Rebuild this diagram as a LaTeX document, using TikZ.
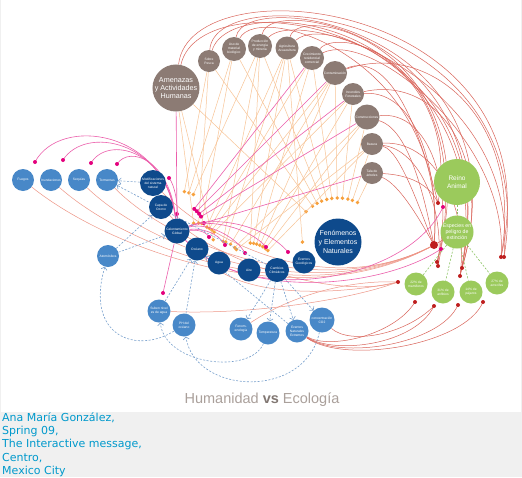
\documentclass[tikz,border=0pt]{standalone}
\usepackage{fontspec}
\setmainfont{Liberation Sans}
\newfontfamily\footfont{DejaVu Sans}
\usetikzlibrary{calc,arrows.meta}
\pgfdeclarelayer{back}
\pgfdeclarelayer{bg}
\pgfsetlayers{back,bg,main}
\definecolor{brn}{RGB}{140,123,116}
\definecolor{navy}{RGB}{14,74,140}
\definecolor{mblue}{RGB}{72,136,200}
\definecolor{grn}{RGB}{155,202,92}
\definecolor{oline}{RGB}{248,196,150}
\definecolor{odot}{RGB}{247,160,60}
\definecolor{pline}{RGB}{236,95,172}
\definecolor{pdot}{RGB}{228,0,125}
\definecolor{rline}{RGB}{218,100,90}
\definecolor{sline}{RGB}{238,150,135}
\definecolor{rdot}{RGB}{190,30,30}
\definecolor{dblue}{RGB}{120,160,205}
\definecolor{dgreen}{RGB}{140,196,100}
\definecolor{ttl}{RGB}{170,160,155}
\definecolor{ttlb}{RGB}{130,120,115}
\definecolor{foot}{RGB}{0,153,204}
\definecolor{footbg}{RGB}{240,240,240}
\tikzset{
  nd/.style={circle,inner sep=0pt,text=white,align=center,font=\fontsize{3.3}{4.1}\selectfont},
  bn/.style={nd,fill=brn},
  dn/.style={nd,fill=navy},
  mn/.style={nd,fill=mblue},
  gn/.style={nd,fill=grn},
  oln/.style={draw=oline,line width=0.5pt},
  pln/.style={draw=pline,line width=0.6pt},
  rln/.style={draw=rline,line width=0.5pt},
  sln/.style={draw=sline,line width=0.5pt},
  dsh/.style={draw=dblue,line width=0.6pt,dash pattern=on 2pt off 1.6pt,-{Straight Barb[length=2.5pt,width=6pt]}},
  gdsh/.style={draw=dgreen,line width=0.6pt,dash pattern=on 2pt off 1.6pt},
}
\begin{document}
\begin{tikzpicture}[x=1pt,y=-1pt]
\useasboundingbox (0,0) rectangle (522,477);
\begin{pgfonlayer}{back}
\fill[white] (0,0) rectangle (522,412);
\fill[footbg] (0,412) rectangle (522,477);
\draw[footbg,line width=1pt] (0.5,0) -- (0.5,412);
\draw[footbg,line width=1pt] (521.5,0) -- (521.5,412);
\end{pgfonlayer}

% brown nodes
\node[bn,minimum size=47pt,font=\fontsize{7.2}{7.8}\selectfont] (amen) at (176,88) {Amenazas\\y Actividades\\Humanas};
\node[bn,minimum size=22pt] (sp) at (209,61) {Sobre\\Pesca};
\node[bn,minimum size=24pt] (um) at (234,49) {Uso de\\material\\biológico};
\node[bn,minimum size=24pt] (pe) at (260,46) {Producción\\de energía\\y minería};
\node[bn,minimum size=23pt] (ag) at (287,48) {Agricultura\\Acuacultura};
\node[bn,minimum size=24pt] (cr) at (312,58) {Crecimiento\\residencial\\comercial};
\node[bn,minimum size=24pt] (co) at (335,73) {Contaminación};
\node[bn,minimum size=22pt] (inc) at (353,94) {Incendios\\Forestales};
\node[bn,minimum size=25pt] (cn) at (367,117) {Construcciones};
\node[bn,minimum size=22pt] (ba) at (372,144) {Basura};
\node[bn,minimum size=22pt] (ta) at (372,173) {Tala de\\árboles};
% dark blue nodes
\node[dn,minimum size=47pt,font=\fontsize{7}{8.6}\selectfont] (fen) at (338,242) {Fenómenos\\y Elementos\\Naturales};
\node[dn,minimum size=26pt] (mod) at (153,183) {Modificaciones\\del sistema\\natural};
\node[dn,minimum size=24pt] (oz) at (161,207) {Capa de\\Ozono};
\node[dn,minimum size=25pt] (cal) at (177,231) {Calentamiento\\Global};
\node[dn,minimum size=23pt] (oce) at (197,249) {Océano};
\node[dn,minimum size=23pt] (agu) at (219,263) {Agua};
\node[dn,minimum size=23pt] (aire) at (249,270) {Aire};
\node[dn,minimum size=24pt] (cam) at (277,270) {Cambios\\Climáticos};
\node[dn,minimum size=23pt] (geo) at (304,262) {Eventos\\Geológicos};
% medium blue nodes
\node[mn,minimum size=22pt] (fue) at (23,180) {Fuegos};
\node[mn,minimum size=22pt] (inu) at (51,180) {Inundaciones};
\node[mn,minimum size=22pt] (seq) at (79,180) {Sequías};
\node[mn,minimum size=22pt] (tor) at (107,180) {Tormentas};
\node[mn,minimum size=22pt] (atm) at (108,256) {Atomósfera};
\node[mn,minimum size=23pt] (sub) at (159,311) {Suben nivel\\es de agua};
\node[mn,minimum size=23pt] (ph) at (184,325) {PH del\\océano};
\node[mn,minimum size=23pt] (fenol) at (241,329) {Fenom-\\enología};
\node[mn,minimum size=23pt] (tem) at (268,333) {Temperatura};
\node[mn,minimum size=23pt] (evn) at (297,331) {Eventos\\Naturales\\Extremos};
\node[mn,minimum size=25pt] (co2) at (322,320) {concentración\\CO2};
% green nodes
\node[gn,minimum size=46pt,font=\fontsize{6.5}{7.4}\selectfont] (reino) at (457,182) {Reino\\Animal};
\node[gn,minimum size=33pt,font=\fontsize{5.2}{6}\selectfont] (esp) at (457,232) {Especies en\\peligro de\\extinción};
\node[gn,minimum size=23pt] (p22) at (416,284) {22\% de\\mamíferos};
\node[gn,minimum size=23pt] (p31) at (443,292) {31\% de\\anfibios};
\node[gn,minimum size=23pt] (p14) at (471,292) {14\% de\\pájaros};
\node[gn,minimum size=23pt] (p27) at (497,283) {27\% de\\arrecifes};

% coordinates for connector ends
\coordinate (r27a) at (501,257);
\coordinate (r27b) at (504,257);
\coordinate (r14a) at (462,268);
\coordinate (r14b) at (460,276);
\coordinate (r31a) at (437,262);
\coordinate (r31b) at (438,266);
\coordinate (rre) at (438,203);
\coordinate (conv) at (434,245);
\coordinate (r22l) at (398,282);
\coordinate (b22) at (415,302);
\coordinate (b31) at (434,306);
\coordinate (b14) at (458,305);
\coordinate (b27) at (483,302);
\coordinate (pf) at (35,162);
\coordinate (pi) at (63,160);
\coordinate (ps) at (91,163);
\coordinate (pt) at (117,164);
\coordinate (pm) at (169,178);
\coordinate (po) at (209,237);
\coordinate (pa) at (225,245);
\coordinate (pr) at (245,253);
\coordinate (pc) at (266,247);
\coordinate (pg) at (288,252);
\coordinate (psu) at (163,293);
\coordinate (pes) at (441,249);
\coordinate (pre) at (443,207);
% ends of the orange connectors into Fenomenos
\coordinate (fsp) at (312.5,206.2);
\coordinate (fum) at (317.1,203.3);
\coordinate (fpe) at (321.7,201.1);
\coordinate (fag) at (326.8,199.4);
\coordinate (fcr) at (331.8,198.4);
\coordinate (fco) at (337.2,198);
\coordinate (finc) at (342.4,198.2);
\coordinate (fcn) at (347.9,199.1);
\coordinate (fba) at (352.4,200.4);
\coordinate (fta) at (357.5,202.5);
\coordinate (famen) at (306.1,211.7);

\begin{pgfonlayer}{bg}
% red arcs from the threats
\draw[rln] (amen) .. controls (190,-40) and (560,0) .. (r27a);
\draw[rln] (amen) .. controls (200,-25) and (520,20) .. (r14b);
\draw[rln] (sp) .. controls (215,-25) and (545,15) .. (r27b);
\draw[rln] (sp) .. controls (230,-10) and (470,20) .. (rre);
\draw[rln] (um) .. controls (245,-15) and (530,30) .. (r14a);
\draw[rln] (um) .. controls (260,0) and (450,60) .. (conv);
\draw[rln] (pe) .. controls (270,-8) and (515,40) .. (r14b);
\draw[rln] (pe) .. controls (300,5) and (520,80) .. (r27b);
\draw[rln] (ag) .. controls (300,0) and (495,50) .. (r31a);
\draw[rln] (ag) .. controls (330,10) and (500,90) .. (r14b);
\draw[rln] (cr) .. controls (340,25) and (480,60) .. (r31b);
\draw[rln] (cr) .. controls (370,30) and (510,140) .. (r27a);
\draw[rln] (co) .. controls (390,50) and (420,130) .. (rre);
\draw[rln] (co) .. controls (430,40) and (525,120) .. (r27a);
\draw[rln] (inc) .. controls (440,75) and (495,160) .. (r14a);
\draw[rln] (inc) .. controls (420,90) and (440,180) .. (conv);
\draw[rln] (cn) .. controls (430,110) and (455,190) .. (r31a);
\draw[rln] (cn) .. controls (410,130) and (425,200) .. (conv);
\draw[rln] (ba) .. controls (400,150) and (420,210) .. (conv);
\draw[rln] (ba) .. controls (430,140) and (470,200) .. (r14b);
\draw[rln] (ba) .. controls (420,150) and (445,210) .. (r31b);
\draw[rln] (ta) .. controls (400,185) and (420,220) .. (conv);
\draw[rln] (ta) .. controls (410,175) and (430,185) .. (rre);
% salmon bundle from the left
\draw[sln] (fue) .. controls (110,250) and (300,320) .. (conv);
\draw[sln] (inu) .. controls (130,250) and (305,315) .. (conv);
\draw[sln] (seq) .. controls (150,248) and (310,310) .. (conv);
\draw[sln] (tor) .. controls (170,245) and (320,305) .. (conv);
\draw[sln] (mod) .. controls (215,245) and (330,300) .. (conv);
\draw[sln] (oz) .. controls (220,265) and (340,300) .. (r22l);
\draw[sln] (oce) .. controls (240,300) and (340,295) .. (r22l);
\draw[sln] (sub) .. controls (250,315) and (350,300) .. (r22l);
\draw[sln] (fenol) .. controls (300,290) and (360,280) .. (r22l);
\draw[rln] (conv) -- (esp);
% from below
\draw[rln] (evn) .. controls (330,350) and (395,335) .. (b22);
\draw[rln] (evn) .. controls (335,355) and (415,345) .. (b31);
\draw[rln] (evn) .. controls (340,360) and (440,345) .. (b14);
\draw[rln] (evn) .. controls (345,365) and (465,345) .. (b27);
\draw[rln] (co2) .. controls (350,345) and (405,335) .. (b31);
\foreach \c in {r27a,r27b,r14a,r14b,r31a,r31b,rre,r22l,b22,b31,b14,b27}
  \fill[rdot] (\c) circle[radius=2pt];
\fill[rdot] (conv) circle[radius=4pt];

% orange connectors into Fenomenos
\foreach \s in {sp,um,pe,ag,cr,co,inc,cn,ba,ta,amen}{
  \draw[oln] (\s) -- (f\s);
  \fill[odot] (f\s) circle[radius=1.9pt];
}
% orange connectors into the small natural elements
\foreach \s/\t/\d in {sp/cal/40pt,um/cal/40pt,pe/cal/40pt,ag/oce/24pt,cr/oce/24pt,co/oce/24pt,inc/oce/24pt,amen/oce/26pt,sp/oce/26pt,um/oce/26pt,co/agu/22pt,cn/agu/22pt,ba/agu/22pt,amen/agu/24pt,pe/agu/22pt,ag/agu/22pt,pe/aire/27pt,ag/aire/27pt,cr/aire/27pt,co/aire/27pt,inc/aire/27pt,cn/aire/27pt,ba/aire/27pt,ag/geo/20pt}{
  \draw[oln] (\s) -- ($(\t)!\d!(\s)$);
  \fill[odot] ($(\t)!\d!(\s)$) circle[radius=1.9pt];
}

% pink connectors
\draw[pln] (amen) -- ($(cal)!17pt!(amen)$);
\fill[pdot] ($(cal)!17pt!(amen)$) circle[radius=2pt];
\foreach \s in {cr,co,inc,cn,ta}{
  \draw[pln] (\s) -- ($(cal)!28pt!(\s)$);
  \fill[pdot] ($(cal)!28pt!(\s)$) circle[radius=2pt];
}
\draw[pln] (cal) .. controls (165,130) and (60,115) .. (pf);
\draw[pln] (cal) .. controls (166,140) and (85,125) .. (pi);
\draw[pln] (cal) .. controls (168,150) and (108,135) .. (ps);
\draw[pln] (cal) .. controls (170,160) and (130,145) .. (pt);
\draw[pln] (cal) .. controls (178,205) and (175,185) .. (pm);
\draw[pln] (cal) .. controls (195,230) and (205,230) .. (po);
\draw[pln] (cal) .. controls (200,228) and (218,232) .. (pa);
\draw[pln] (cal) .. controls (205,222) and (235,235) .. (pr);
\draw[pln] (cal) .. controls (210,218) and (250,228) .. (pc);
\draw[pln] (cal) .. controls (215,215) and (265,225) .. (pg);
\draw[pln] (cal) -- (psu);
\draw[pln] (cal) .. controls (240,300) and (380,290) .. (pes);
\draw[pln] (cal) .. controls (250,310) and (410,280) .. (pre);
\foreach \c in {pf,pi,ps,pt,pm,po,pa,pr,pc,pg,psu,pes,pre}
  \fill[pdot] (\c) circle[radius=2pt];

% dashed blue connectors
\draw[dsh] (mod) -- (tor);
\draw[dsh] (cam) -- (tor);
\draw[dsh] (atm) -- (oz);
\draw[dsh] (atm) -- (cal);
\draw[dsh] (sub) -- (oce);
\draw[dsh] (ph) -- (oce);
\draw[dsh] (evn) -- (oce);
\draw[dsh] (cam) -- (fenol);
\draw[dsh] (cam) -- (tem);
\draw[dsh] (cam) -- (evn);
\draw[dsh] (cam) -- (co2);
\draw[dsh] (tem) .. controls (250,375) and (165,365) .. (sub);
\draw[dsh] (co2) .. controls (305,400) and (195,395) .. (ph);
\draw[dsh] (ph) .. controls (135,355) and (85,335) .. (atm);
% dashed green connectors
\draw[gdsh] (reino) -- (esp);
\foreach \p in {p22,p31,p14,p27} \draw[gdsh] (esp) -- (\p);
\end{pgfonlayer}

% title and credits
\node[inner sep=0pt,text=ttl,font=\fontsize{14.5}{16}\selectfont] (title) at (262,400) {Humanidad \textcolor{ttlb}{\textbf{vs}} Ecología};
\node[inner sep=0pt,anchor=north west,align=left,text=foot,font=\footfont\fontsize{11}{13.2}\selectfont] (credits) at (2,412.5) {Ana María González,\\Spring 09,\\The Interactive message,\\Centro,\\Mexico City};
\end{tikzpicture}
\end{document}
